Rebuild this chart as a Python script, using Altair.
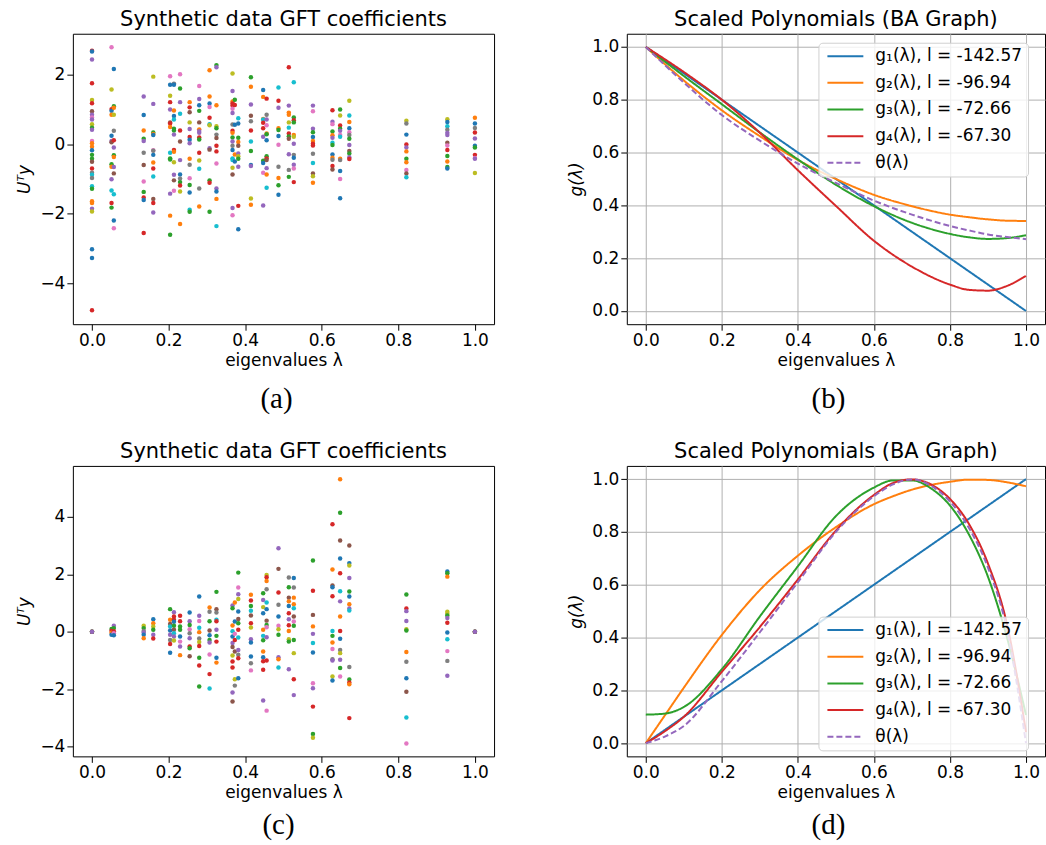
import altair as alt
import pandas as pd

# ---------------- data ----------------
EIG = [0.0, 0.051, 0.057, 0.135, 0.160, 0.204, 0.214, 0.230, 0.255, 0.280,
       0.307, 0.325, 0.367, 0.373, 0.382, 0.415, 0.447, 0.456, 0.487, 0.514,
       0.527, 0.577, 0.628, 0.648, 0.672, 0.821, 0.928, 1.0]

# colour keys: b blue, o orange, g green, r red, p purple, n brown, k pink, y gray, l olive, c cyan
COLOR_KEYS = list("bogrpnkylc")
TAB10 = ["#1f77b4", "#ff7f0e", "#2ca02c", "#d62728", "#9467bd",
         "#8c564b", "#e377c2", "#7f7f7f", "#bcbd22", "#17becf"]

A_VALS = [
    [2.67, 2.65, 2.42, 1.74, 1.26, 1.17, 0.94, 0.84, 0.76, 0.70, 0.57, 0.47, 0.41, 0.09, 0.02, -0.08, -0.18,
     -0.31, -0.42, -0.51, -0.70, -0.82, -0.88, -0.97, -1.21, -1.28, -1.64, -1.69, -1.85, -1.93, -3.01, -3.26, -4.76],
    [2.77, 1.56, 1.00, 0.95, 0.84, 0.24, 0.09, 0.05, -0.58, -0.65, -1.01, -1.33, -1.69, -1.82],
    [2.15, 1.08, 1.04, 0.84, 0.38, 0.11, -0.10, -0.32, -0.37, -0.66, -0.84, -1.44, -2.19, -2.41],
    [1.36, 0.83, 0.39, 0.15, 0.09, -0.25, -0.60, -1.07, -1.37, -1.53, -1.60, -2.55],
    [1.93, 1.15, 0.33, 0.29, 0.26, -0.18, -0.19, -0.31, -0.53, -0.70, -0.93, -1.57, -1.69, -1.96],
    [1.94, 1.70, 1.38, 1.20, 0.99, 0.62, 0.59, 0.49, -0.25, -0.41, -0.44, -1.42, -2.05, -2.60],
    [1.73, 1.70, 0.96, 0.80, 0.70, 0.44, 0.39, 0.27, -0.17, -0.22, -0.52, -0.88, -1.04, -1.34],
    [2.00, 1.59, 1.20, 0.87, 0.39, 0.07, -0.46, -0.87, -0.99, -1.09, -1.19, -1.36, -2.29],
    [1.20, 1.05, 0.91, 0.62, 0.43, 0.20, 0.12, 0.02, -0.42, -0.59, -0.98, -1.17, -1.39, -1.88, -1.94],
    [1.66, 1.29, 1.11, 0.95, 0.62, 0.42, 0.37, 0.32, 0.19, 0.13, -0.25, -0.47, -0.71, -1.27, -1.79],
    [2.11, 1.36, 1.16, 1.06, 0.75, 0.57, 0.54, -0.12, -0.16, -1.04, -1.11, -1.94],
    [2.26, 2.20, 1.11, 0.51, 0.45, 0.27, 0.17, -0.05, -0.21, -0.56, -1.27, -1.36, -1.57, -2.35],
    [2.02, 1.52, 1.22, 1.16, 1.10, 1.01, 0.89, 0.56, 0.38, 0.32, 0.19, 0.07, -0.05, -0.17, -0.41, -0.46,
     -0.68, -0.87, -1.83, -2.04],
    [1.27, 1.12, 0.55, -0.30, -0.50],
    [0.74, 0.59, 0.18, 0.06, -0.05, -0.27, -0.35, -0.42, -0.65, -1.77, -2.44],
    [1.91, 1.64, 1.13, 0.81, 0.65, 0.39, 0.07, -0.20, -0.60, -0.63, -1.56, -1.74],
    [1.55, 1.35, 0.72, 0.70, 0.61, 0.45, 0.21, -0.48, -0.54, -0.82, -1.76],
    [1.30, 0.84, 0.70, 0.54, 0.30, 0.28, 0.11, -0.35, -0.41, -0.46, -0.69, -0.87, -1.25],
    [1.62, 1.24, 1.04, 0.45, 0.40, 0.23, -0.02, -0.65, -0.97, -1.18, -1.45],
    [2.20, 1.10, 0.90, 0.84, 0.62, 0.47, 0.30, 0.22, 0.15, -0.29, -0.74, -0.94],
    [1.77, 0.76, 0.68, 0.62, 0.26, 0.21, 0.01, -0.31, -0.39, -0.59, -0.70, -1.09],
    [1.10, 0.94, 0.44, 0.34, 0.20, 0.09, 0.01, -0.04, -0.28, -0.54, -0.84, -0.92, -1.11],
    [0.97, 0.64, 0.57, 0.36, 0.25, 0.18, 0.04, -0.03, -0.30, -0.39, -0.45, -0.63, -0.73],
    [0.99, 0.82, 0.53, 0.44, 0.38, 0.26, 0.21, -0.42, -0.46, -0.77, -1.00, -1.55],
    [1.24, 0.82, 0.63, 0.45, 0.34, 0.26, 0.15, -0.03, -0.20, -0.27, -0.38, -0.43],
    [0.67, 0.59, 0.27, -0.01, -0.10, -0.21, -0.42, -0.52, -0.74, -0.84, -0.95],
    [0.71, 0.63, 0.51, 0.41, 0.32, 0.26, 0.04, -0.04, -0.17, -0.34, -0.50, -0.66, -0.70],
    [0.75, 0.59, 0.46, 0.33, 0.16, -0.05, -0.10, -0.31, -0.40, -0.42, -0.83],
]
A_COLS = [
    "rbprlrnpkplgpkoobggnrycycgooplbbr", "klrbobpngopcrg", "bgolyrpgopncbk", "pbogpynkgrbr",
    "lpgobkyborcnrp", "kblrpnrocggpog", "ybobcggprolpnk", "kgpcrnpbygrlo", "ornlprbpoykgbcg",
    "kpbgnopprgrlcyo", "oobkrclpngrg", "gpolgynrrkpboc", "lporrkpyrogpybcclnpk", "grbob",
    "cbgonplgprb", "gopnyrcgbplo", "boocrrpgbkp", "rypkogbgrnpoc", "crpogbkyogb", "rpoolcrgnpyg",
    "cgrgolpybpkr", "pkpgborrycnlo", "rpkgopcgboyrn", "glrgpkcoybkb", "lcobkygpngpr",
    "lybrpogoknc", "lbcyppnkrgogb", "obyrpbgrkpl",
]

C_VALS = [
    [0.0, 0.0, 0.0, 0.0, 0.0],
    [0.10, 0.04, -0.03, -0.10],
    [0.21, 0.13, 0.02, -0.05, -0.12],
    [0.21, 0.13, 0.03, -0.02, -0.10, -0.22],
    [0.44, 0.30, 0.19, 0.07, -0.10, -0.23],
    [0.79, 0.42, 0.27, 0.19, 0.05, -0.10, -0.28, -0.42, -0.73],
    [0.68, 0.53, 0.42, 0.35, 0.21, 0.07, -0.05, -0.16, -0.30],
    [0.56, 0.37, 0.19, 0.07, -0.16, -0.34, -0.51, -0.81],
    [0.67, 0.37, 0.24, 0.09, -0.05, -0.22, -0.51, -0.57, -0.85],
    [1.23, 0.56, 0.38, 0.14, -0.01, -0.23, -0.35, -0.49, -0.90, -1.17, -1.90],
    [0.85, 0.70, 0.37, 0.05, -0.12, -0.28, -0.37, -0.79, -1.47, -1.97],
    [1.39, 0.79, 0.67, 0.42, 0.37, 0.07, -0.14, -0.34, -0.90, -1.07],
    [0.92, 0.82, 0.22, 0.02, -0.16, -0.39, -0.53, -0.82, -1.03, -1.24, -2.11, -2.42],
    [1.02, 0.36, -0.07, -0.28, -0.68, -1.65, -1.87],
    [2.06, 1.54, 1.31, 1.14, 0.71, 0.45, 0.30, 0.07, -0.20, -0.63, -0.80, -0.92, -1.61],
    [1.29, 1.09, 0.90, 0.73, 0.57, 0.30, 0.15, -0.26, -0.37, -0.86, -1.09, -1.34],
    [1.34, 1.11, 0.86, 0.65, 0.07, -0.14, -0.29, -0.68, -0.88, -1.02, -1.32, -2.39],
    [1.98, 1.90, 1.77, 1.48, 1.02, 0.79, 0.39, 0.24, 0.16, -0.19, -1.00, -2.74],
    [2.91, 2.19, 1.37, 0.94, 0.53, 0.21, 0.09, -0.10, -0.88, -0.95, -1.24],
    [1.89, 1.55, 1.19, 1.06, 0.90, 0.65, 0.44, 0.23, 0.03, -0.26, -0.34, -1.30],
    [1.87, 1.54, 1.19, 0.96, 0.82, 0.53, 0.36, 0.21, -0.28, -0.74, -1.65, -2.20],
    [2.48, 1.43, 0.59, 0.19, -0.07, -0.39, -0.72, -1.79, -1.96, -2.60, -3.55, -3.68],
    [3.74, 2.17, 1.61, 1.55, 1.24, 0.03, -0.14, -0.37, -0.60, -0.95, -1.00, -1.55, -1.69],
    [5.31, 4.14, 3.18, 2.55, 2.04, 1.41, 1.06, 0.53, 0.03, -0.24, -0.63, -0.74, -0.97, -1.26, -1.55],
    [3.00, 2.39, 2.31, 1.87, 1.40, 1.23, 0.96, 0.81, 0.74, -1.22, -1.66, -1.76, -1.82, -3.00],
    [1.30, 0.81, 0.72, 0.38, 0.09, 0.05, -0.70, -1.04, -1.61, -2.08, -2.98, -3.88],
    [2.10, 2.04, 1.92, 0.70, 0.63, 0.57, 0.48, 0.32, -0.02, -0.26, -0.67, -1.01, -1.53],
    [0.0, 0.0, 0.0, 0.0, 0.0],
]
C_COLS = [
    "bognp", "grob", "pgrkb", "lgypbo", "bolgpr", "goncbpyrb", "prrbgncpl", "rrggbkpo", "bpgkyprgn",
    "bpkcoylrgrg", "oygnbgpkrc", "gnycrpgrbo", "pgocbpnlrrpn", "obkrnly", "gkplbngrcpyrb",
    "orgcnrlpbbyk", "gplbocgobrrp", "lroycbngkprk", "pnrybklgpoc", "ygnobrprolgp", "byoocnkgglrp",
    "grnopcbkprgl", "ronbrcgokyplb", "ognbrcporbylpgk", "nblpgbopcygror", "grpplgoybnck",
    "bgollgprbckyp", "bognp",
]

SERIES = ["g₁(λ), l = -142.57", "g₂(λ), l = -96.94", "g₃(λ), l = -72.66",
          "g₄(λ), l = -67.30", "θ(λ)"]
SERIES_COLORS = ["#1f77b4", "#ff7f0e", "#2ca02c", "#d62728", "#9467bd"]

B_LAM = [0.0, 0.1, 0.2, 0.3, 0.4, 0.5, 0.6, 0.7, 0.8, 0.85, 0.9, 0.95, 1.0]
B_G1 = [1.0, 0.9, 0.8, 0.7, 0.6, 0.5, 0.4, 0.3, 0.2, 0.15, 0.1, 0.05, 0.0]
B_G2 = [1.0, 0.873, 0.76, 0.662, 0.572, 0.500, 0.440, 0.397, 0.365, 0.355, 0.347, 0.342, 0.341]
B_G3 = [1.0, 0.89, 0.783, 0.676, 0.574, 0.478, 0.397, 0.334, 0.292, 0.279, 0.273, 0.276, 0.287]
B_G4 = [1.0, 0.905, 0.80, 0.675, 0.533, 0.398, 0.266, 0.168, 0.100, 0.080, 0.077, 0.095, 0.133]
B_TH = [1.0, 0.865, 0.742, 0.645, 0.558, 0.485, 0.418, 0.365, 0.322, 0.305, 0.29, 0.28, 0.272]

D_LAM = [0.0, 0.05, 0.1, 0.2, 0.3, 0.4, 0.5, 0.6, 0.65, 0.7, 0.75, 0.8, 0.85, 0.9, 0.95, 1.0]
D_G1 = [0.0, 0.05, 0.1, 0.2, 0.3, 0.4, 0.5, 0.6, 0.65, 0.7, 0.75, 0.8, 0.85, 0.9, 0.95, 1.0]
D_G2 = [0.0, 0.105, 0.21, 0.41, 0.58, 0.71, 0.818, 0.905, 0.935, 0.96, 0.978, 0.99, 0.998, 0.997, 0.988, 0.973]
D_G3 = [0.108, 0.112, 0.137, 0.28, 0.48, 0.67, 0.86, 0.968, 0.995, 0.995, 0.965, 0.90, 0.79, 0.63, 0.40, 0.107]
D_G4 = [0.0, 0.045, 0.10, 0.27, 0.44, 0.62, 0.805, 0.94, 0.985, 0.999, 0.98, 0.925, 0.83, 0.68, 0.45, 0.042]
D_TH = [0.0, 0.025, 0.065, 0.235, 0.42, 0.61, 0.80, 0.935, 0.98, 0.999, 0.975, 0.915, 0.815, 0.665, 0.43, 0.0]

TITLES = ["Synthetic data GFT coefficients", "Scaled Polynomials (BA Graph)"]
CAPTIONS = ["(a)", "(b)", "(c)", "(d)"]
X_TICKS = [0.0, 0.2, 0.4, 0.6, 0.8, 1.0]
A_YTICKS = [-4, -2, 0, 2]
C_YTICKS = [-4, -2, 0, 2, 4]
G_YTICKS = [0.0, 0.2, 0.4, 0.6, 0.8, 1.0]


def scatter_df(vals, cols):
    rows = []
    for lam, vs, cs in zip(EIG, vals, cols):
        for v, c in zip(vs, cs):
            rows.append({"lam": lam, "val": v, "c": c})
    return pd.DataFrame(rows)


def curve_df(lam, curves):
    rows = []
    for name, ys in zip(SERIES, curves):
        for x, y in zip(lam, ys):
            rows.append({"lam": x, "g": y, "series": name})
    return pd.DataFrame(rows)


FONT = "DejaVu Sans"
XDOM = [-0.05, 1.05]


def x_enc(grid):
    return alt.X("lam:Q", scale=alt.Scale(domain=XDOM, nice=False, zero=False),
                 axis=alt.Axis(values=X_TICKS, format=".1f", grid=grid, title="eigenvalues λ"))


def caption(text, cx, cy):
    return alt.Chart(pd.DataFrame({"t": [text]})).mark_text(
        font="Liberation Serif", fontSize=29, baseline="alphabetic", align="center", color="black"
    ).encode(text="t:N", x=alt.value(cx), y=alt.value(cy))


def scatter_panel(vals, cols, ydom, yticks, cap, cx, cy, w, h):
    df = scatter_df(vals, cols)
    pts = alt.Chart(df).mark_circle(size=20, opacity=1).encode(
        x=x_enc(False),
        y=alt.Y("val:Q", scale=alt.Scale(domain=ydom, nice=False, zero=False),
                axis=alt.Axis(values=yticks, format="d", grid=False, title="Uᵀy",
                              titleFontStyle="italic")),
        color=alt.Color("c:N", scale=alt.Scale(domain=COLOR_KEYS, range=TAB10), legend=None),
    )
    return alt.layer(pts, caption(cap, cx, cy)).properties(
        width=w, height=h, title=alt.TitleParams(TITLES[0]))


def curve_panel(lam, curves, cap, cx, cy, ly, w, h):
    df = curve_df(lam, curves)
    leg = alt.Legend(orient="none", legendX=192, legendY=ly, title=None,
                     fillColor="rgba(255,255,255,0.8)", strokeColor="#d0d0d0", cornerRadius=4,
                     padding=5, symbolType="M-0.6,0H4.2", symbolSize=225, symbolStrokeWidth=2,
                     labelFont=FONT, labelFontSize=17, labelColor="black", labelOffset=35,
                     rowPadding=8.7, labelLimit=400)
    lines = alt.Chart(df).mark_line(strokeWidth=2, interpolate="monotone").encode(
        x=x_enc(True),
        y=alt.Y("g:Q", scale=alt.Scale(domain=[-0.05, 1.05], nice=False, zero=False),
                axis=alt.Axis(values=G_YTICKS, format=".1f", grid=True, title="g(λ)",
                              titleFontStyle="italic")),
        color=alt.Color("series:N", scale=alt.Scale(domain=SERIES, range=SERIES_COLORS), legend=leg),
        strokeDash=alt.StrokeDash("series:N", scale=alt.Scale(
            domain=SERIES, range=[[1, 0], [1, 0], [1, 0], [1, 0], [6, 3]]), legend=leg),
    )
    return alt.layer(lines, caption(cap, cx, cy)).properties(
        width=w, height=h, title=alt.TitleParams(TITLES[1]))


pa = scatter_panel(A_VALS, A_COLS, [-5.158, 3.158], A_YTICKS, CAPTIONS[0], 204, 375, 422, 291)
pb = curve_panel(B_LAM, [B_G1, B_G2, B_G3, B_G4, B_TH], CAPTIONS[1], 202, 375, 9, 419, 291)
pc = scatter_panel(C_VALS, C_COLS, [-4.33, 5.77], C_YTICKS, CAPTIONS[2], 206, 369, 422, 291)
pdd = curve_panel(D_LAM, [D_G1, D_G2, D_G3, D_G4, D_TH], CAPTIONS[3], 202, 369, 151, 419, 291)

chart = alt.concat(pa, pb, pc, pdd, columns=2, spacing={"row": 142, "column": 133},
                   bounds="flush").resolve_scale(
    color="independent", strokeDash="independent"
).properties(
    padding={"left": 15, "top": 7, "right": 0, "bottom": 5}, background="white"
).configure_view(
    stroke="black", strokeWidth=1
).configure_axis(
    labelFont=FONT, labelFontSize=17, labelColor="black", tickColor="black", tickSize=6,
    tickWidth=1, labelPadding=2, domain=False, gridColor="#b0b0b0", gridWidth=1,
    titleFont=FONT, titleFontSize=17, titleFontWeight="normal", titleColor="black",
    titlePadding=4, labelFlush=False, labelOverlap=False
).configure_axisY(titlePadding=6).configure_title(
    font=FONT, fontSize=21, fontWeight="normal", color="black", anchor="middle", offset=0,
    baseline="bottom"
)

chart.save("out.html", embed_options={"renderer": "svg", "actions": False})
